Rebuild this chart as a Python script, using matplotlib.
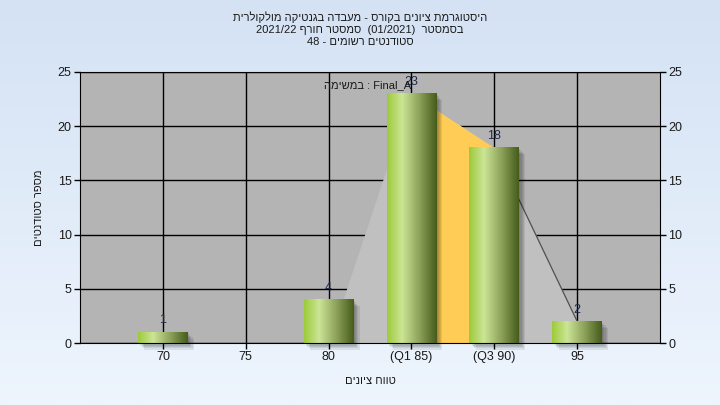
import numpy as np
import matplotlib.pyplot as plt
from matplotlib.patches import Rectangle
from matplotlib.colors import LinearSegmentedColormap

plt.rcParams['font.family'] = ['Liberation Sans', 'DejaVu Sans']

# data
categories = ['70', '75', '80', '(Q1 85)', '(Q3 90)', '95']
counts = [1, 0, 4, 23, 18, 2]
curve_x = [2, 3, 4, 5]          # category positions of the distribution outline
curve_y = [0, 23, 18, 2]
q1_pos, q3_pos = 3, 4

title_lines = [
    'היסטוגרמת ציונים בקורס - מעבדה בגנטיקה מולקולרית',
    ('2021/22', 'סמסטר חורף', '(01/2021)', 'בסמסטר'),
    ('48 -', 'סטודנטים רשומים'),
]
task_name = 'Final_A'
x_title = 'טווח ציונים'
y_title = 'מספר סטודנטים'


def rtl(s):
    # matplotlib has no bidi support, so hebrew is written in visual order
    return s[::-1]


line1 = rtl(title_lines[0])
a, b, c, d = title_lines[1]
line2 = a + ' ' + rtl(b) + '  ' + c + '  ' + rtl(d)
line3 = title_lines[2][0] + ' ' + rtl(title_lines[2][1])

fig = plt.figure(figsize=(7.2, 4.05), dpi=100)

# light blue gradient background
bg = fig.add_axes([0, 0, 1, 1], zorder=-10)
bg_cmap = LinearSegmentedColormap.from_list('bg', ['#d4e2f4', '#eef5fd'])
bg.imshow(np.linspace(0, 1, 256)[:, None], cmap=bg_cmap, aspect='auto',
          extent=[0, 1, 0, 1], origin='upper')
bg.axis('off')

ax = fig.add_axes([80 / 720, 62 / 405, 580 / 720, 271 / 405])
ax.set_facecolor('#b4b4b4')

# distribution outline + interquartile range
ax.fill_between(curve_x, curve_y, 0, color='#c0c0c0', lw=0, zorder=2)
qx = [x for x in curve_x if q1_pos <= x <= q3_pos]
qy = [y for x, y in zip(curve_x, curve_y) if q1_pos <= x <= q3_pos]
ax.fill_between(qx, qy, 0, color='#ffcc55', lw=0, zorder=2.1)
ax.plot(curve_x[-2:], curve_y[-2:], color='#505050', lw=0.9, zorder=2.2)

bar_cmap = LinearSegmentedColormap.from_list(
    'bar', [(0, '#9dcb3c'), (0.3, '#cce596'), (0.65, '#8da25a'), (1, '#465d1c')])
grad = np.linspace(0, 1, 64)[None, :]
w = 0.6
for i, n in enumerate(counts):
    if n == 0:
        continue
    for k in range(5):
        ax.add_patch(Rectangle((i - w / 2 + 0.015 * (k + 1), -0.12 * (k + 1)), w, n,
                               color='black', alpha=0.08, lw=0, zorder=3,
                               clip_on=False))
    ax.imshow(grad, cmap=bar_cmap, extent=[i - w / 2, i + w / 2, 0, n],
              aspect='auto', interpolation='bilinear', zorder=4)
    ax.text(i, n + 0.8, str(n), ha='center', va='baseline', fontsize=9,
            color='#1e2a48', zorder=6)

ax.text(0.495, 0.952, rtl('במשימה') + ' : ' + task_name, transform=ax.transAxes,
        ha='center', va='center', fontsize=8, color='#1a1a1a', zorder=6)

ax.set_xlim(-1, 6)
ax.set_ylim(0, 25)
ax.set_xticks(range(len(categories)), categories)
ax.set_yticks(range(0, 26, 5))
ax.grid(True, color='black', lw=1)
ax.set_axisbelow(True)
for sp in ax.spines.values():
    sp.set_color('black')
    sp.set_zorder(10)
ax.tick_params(direction='out', length=4, width=1, labelsize=9,
               labelcolor='#1a1a1a', pad=2)

ax2 = ax.twinx()
ax2.set_ylim(0, 25)
ax2.set_yticks(range(0, 26, 5))
ax2.tick_params(direction='out', length=4, width=1, labelsize=9,
                labelcolor='#1a1a1a', pad=2)
for sp in ax2.spines.values():
    sp.set_visible(False)

ax.set_xlabel(rtl(x_title), fontsize=8, color='#1a1a1a', labelpad=9)
ax.set_ylabel(rtl(y_title), fontsize=8, color='#1a1a1a', labelpad=10)

for y, t in zip([17, 30, 42], [line1, line2, line3]):
    fig.text(0.5, 1 - y / 405, t, ha='center', va='center', fontsize=8,
             color='#1a1a1a')

fig.savefig('out.png', dpi=100)
